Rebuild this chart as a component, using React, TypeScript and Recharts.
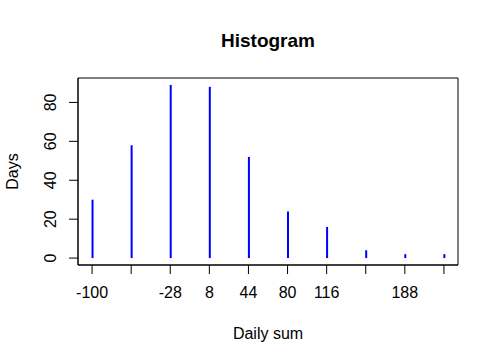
import React from "react";
import {
  ComposedChart, Bar, XAxis, YAxis, ReferenceArea, Customized,
} from "recharts";

// bin centres (daily sum) and number of days in each bin
const dailySum = [-100, -64, -28, 8, 44, 80, 116, 152, 188, 224];
const days = [30, 58, 89, 88, 52, 24, 16, 4, 2, 2];

// R leaves out the labels that would overlap
const xTickLabels = ["-100", "", "-28", "8", "44", "80", "116", "", "188", ""];
const yTicks = [0, 20, 40, 60, 80];

const data = dailySum.map((x, i) => ({ x, days: days[i] }));

const FONT = "'Liberation Sans', Arial, sans-serif";
const X_DOMAIN: [number, number] = [-112.96, 236.96];
const Y_DOMAIN: [number, number] = [-3.56, 92.56];

const YTick = (props: any) => {
  const { x, y, payload } = props;
  return (
    <text
      x={x - 11}
      y={y}
      transform={`rotate(-90 ${x - 11} ${y})`}
      textAnchor="middle"
      fontSize={16}
      fontFamily={FONT}
      fill="#000"
    >
      {payload.value}
    </text>
  );
};

export default function App() {
  return (
    <div style={{ position: "absolute", left: 0, top: 0, background: "#fff" }}>
      <ComposedChart
        width={498}
        height={363}
        data={data}
        margin={{ top: 78, right: 40, bottom: 0, left: 0 }}
      >
        <XAxis
          dataKey="x"
          type="number"
          domain={X_DOMAIN}
          ticks={dailySum}
          tickFormatter={(v: number) => xTickLabels[dailySum.indexOf(v)] ?? ""}
          tickSize={9}
          tickMargin={13}
          height={98}
          tick={{ fontSize: 16, fontFamily: FONT, fill: "#000" }}
          stroke="#000"
          allowDataOverflow
          label={{
            content: (p: any) => (
              <text
                x={p.viewBox.x + p.viewBox.width / 2}
                y={p.viewBox.y + 74}
                textAnchor="middle"
                fontSize={16}
                fontFamily={FONT}
              >
                Daily sum
              </text>
            ),
          }}
        />
        <YAxis
          type="number"
          domain={Y_DOMAIN}
          ticks={yTicks}
          width={78}
          tickSize={9}
          tick={<YTick />}
          stroke="#000"
          allowDataOverflow
          label={{
            content: (p: any) => {
              const cx = 18;
              const cy = p.viewBox.y + p.viewBox.height / 2;
              return (
                <text
                  x={cx}
                  y={cy}
                  transform={`rotate(-90 ${cx} ${cy})`}
                  textAnchor="middle"
                  fontSize={16}
                  fontFamily={FONT}
                >
                  Days
                </text>
              );
            },
          }}
        />
        {/* plot box */}
        <ReferenceArea
          x1={X_DOMAIN[0]}
          x2={X_DOMAIN[1]}
          y1={Y_DOMAIN[0]}
          y2={Y_DOMAIN[1]}
          fill="none"
          fillOpacity={0}
          stroke="#000"
          strokeWidth={1}
          ifOverflow="extendDomain"
        />
        <Bar dataKey="days" fill="#0000ff" barSize={2} isAnimationActive={false} />
        <Customized
          component={() => (
            <text
              x={268}
              y={47}
              textAnchor="middle"
              fontSize={19}
              fontWeight="bold"
              fontFamily={FONT}
            >
              Histogram
            </text>
          )}
        />
      </ComposedChart>
    </div>
  );
}
